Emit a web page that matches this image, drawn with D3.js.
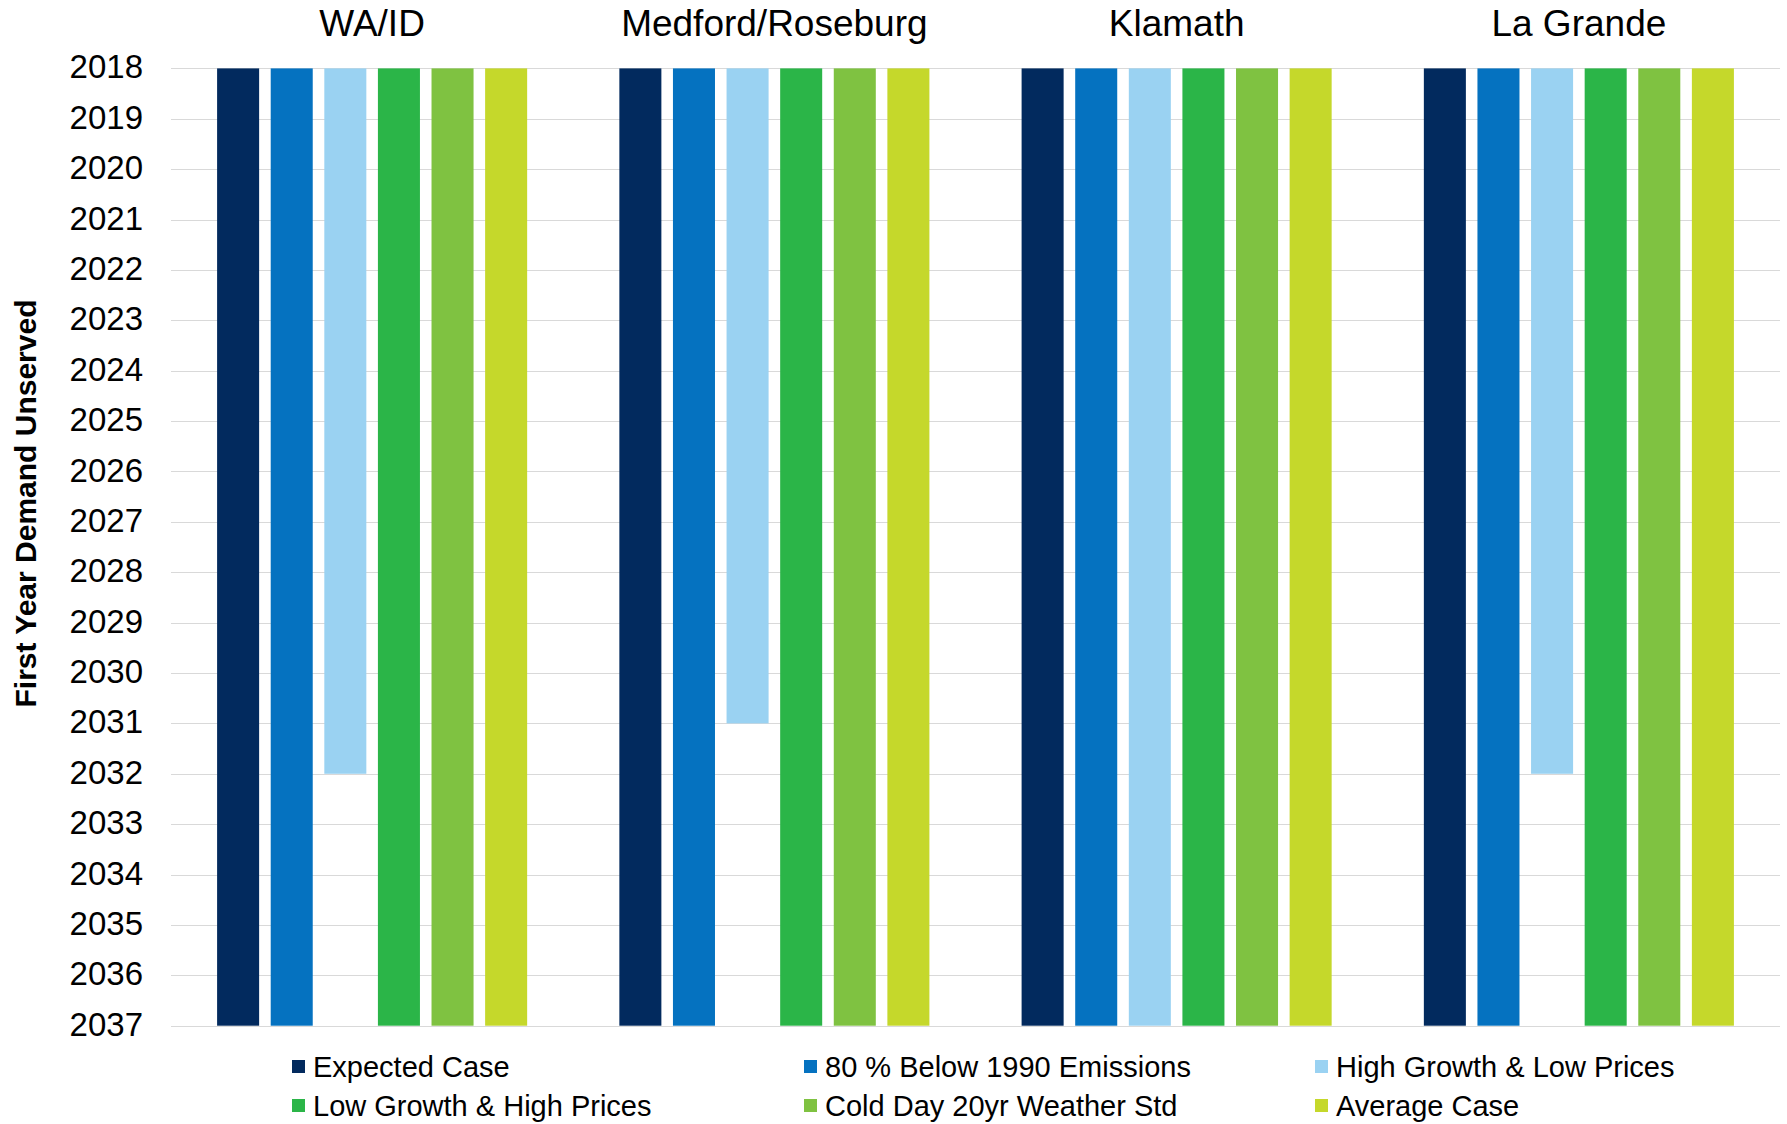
<!DOCTYPE html>
<html>
<head>
<meta charset="utf-8">
<script src="https://cdn.jsdelivr.net/npm/d3@7"></script>
<style>
  html, body { margin: 0; padding: 0; background: #ffffff; }
  svg { display: block; font-family: "Liberation Sans", Arial, sans-serif; }
</style>
</head>
<body>
<svg id="chart" width="1787" height="1124"></svg>
<script>
// ---- Data ----
const regions = ["WA/ID", "Medford/Roseburg", "Klamath", "La Grande"];
const seriesNames = [
  "Expected Case",
  "80 % Below 1990 Emissions",
  "High Growth & Low Prices",
  "Low Growth & High Prices",
  "Cold Day 20yr Weather Std",
  "Average Case"
];
const expectedCase      = [2037, 2037, 2037, 2037];
const below1990         = [2037, 2037, 2037, 2037];
const highGrowthLowPx   = [2032, 2031, 2037, 2032];
const lowGrowthHighPx   = [2037, 2037, 2037, 2037];
const coldDay20yr       = [2037, 2037, 2037, 2037];
const averageCase       = [2037, 2037, 2037, 2037];
const seriesValues = [expectedCase, below1990, highGrowthLowPx, lowGrowthHighPx, coldDay20yr, averageCase];
const yearTicks = [2018,2019,2020,2021,2022,2023,2024,2025,2026,2027,2028,2029,2030,2031,2032,2033,2034,2035,2036,2037];
const seriesColors = ["#022a5e", "#0572c0", "#9ad2f2", "#2bb548", "#7fc241", "#c5d82b"];
const yAxisTitle = "First Year Demand Unserved";

// ---- Layout ----
const svg = d3.select("#chart");
const plotLeft = 171, plotRight = 1780, plotTop = 68.4, plotBottom = 1025.7;

const x0 = d3.scaleBand().domain(regions).range([plotLeft, plotRight]).paddingInner(0).paddingOuter(0);
const x1 = d3.scaleBand().domain(seriesNames).range([0, x0.bandwidth()]).paddingInner(0.216).paddingOuter(0.86);
const y = d3.scaleLinear().domain([2018, 2037]).range([plotTop, plotBottom]);
const color = d3.scaleOrdinal().domain(seriesNames).range(seriesColors);

// gridlines
svg.append("g").selectAll("line").data(yearTicks).join("line")
  .attr("x1", plotLeft).attr("x2", plotRight)
  .attr("y1", d => Math.round(y(d)) + 0.5).attr("y2", d => Math.round(y(d)) + 0.5)
  .attr("stroke", "#d9d9d9").attr("stroke-width", 1);

// y axis labels
const yAxis = d3.axisLeft(y).tickValues(yearTicks).tickFormat(d3.format("d")).tickSize(0).tickPadding(0);
const yg = svg.append("g").attr("transform", `translate(143,-1)`).call(yAxis);
yg.select(".domain").remove();
yg.selectAll("text").attr("font-size", 33).attr("fill", "#000").attr("font-family", "Liberation Sans, Arial, sans-serif");

// y axis title
svg.append("text")
  .attr("transform", `translate(36, ${(298 + 709) / 2}) rotate(-90)`)
  .attr("text-anchor", "middle")
  .attr("font-size", 30).attr("font-weight", "bold").attr("fill", "#000")
  .text(yAxisTitle);

// bars
const barData = [];
regions.forEach((r, i) => {
  seriesNames.forEach((s, j) => {
    barData.push({ region: r, series: s, value: seriesValues[j][i] });
  });
});
svg.append("g").selectAll("rect").data(barData).join("rect")
  .attr("x", d => x0(d.region) + x1(d.series))
  .attr("width", x1.bandwidth())
  .attr("y", y(2018))
  .attr("height", d => y(d.value) - y(2018))
  .attr("fill", d => color(d.series));

// region titles
svg.append("g").selectAll("text").data(regions).join("text")
  .attr("x", d => x0(d) + x0.bandwidth() / 2)
  .attr("y", 36)
  .attr("text-anchor", "middle")
  .attr("font-size", 37).attr("fill", "#000")
  .text(d => d);

// legend
const legendCols = [292, 804, 1315];
const legendRows = [1067, 1106];
const lg = svg.append("g").selectAll("g").data(seriesNames).join("g")
  .attr("transform", (d, i) => `translate(${legendCols[i % 3]}, ${legendRows[Math.floor(i / 3)]})`);
lg.append("rect").attr("x", 0).attr("y", -7).attr("width", 13).attr("height", 13).attr("fill", d => color(d));
lg.append("text").attr("x", 21).attr("y", 0).attr("dy", "0.35em")
  .attr("font-size", 29).attr("fill", "#000").text(d => d);
</script>
</body>
</html>
